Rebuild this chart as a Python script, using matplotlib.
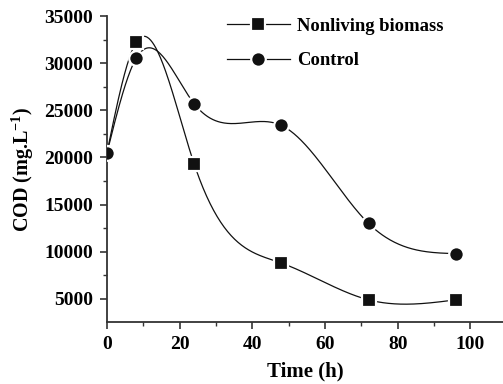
import matplotlib
matplotlib.use("Agg")
import matplotlib.pyplot as plt
from matplotlib.lines import Line2D
from matplotlib.ticker import MultipleLocator
import numpy as np

plt.rcParams['font.family'] = ['Liberation Serif', 'DejaVu Serif']
plt.rcParams['font.weight'] = 'bold'
plt.rcParams['mathtext.fontset'] = 'custom'
plt.rcParams['mathtext.rm'] = 'Liberation Serif:bold'
plt.rcParams['mathtext.default'] = 'rm'

# data
time_h = [0, 8, 24, 48, 72, 96]
nonliving = [20500, 32200, 19300, 8800, 4900, 4900]
control = [20500, 30500, 25700, 23400, 13000, 9800]


def natural_spline(x, y, n=400):
    x = np.asarray(x, float)
    y = np.asarray(y, float)
    k = len(x)
    h = np.diff(x)
    A = np.zeros((k, k))
    b = np.zeros(k)
    A[0, 0] = 1
    A[-1, -1] = 1
    for i in range(1, k - 1):
        A[i, i - 1] = h[i - 1]
        A[i, i] = 2 * (h[i - 1] + h[i])
        A[i, i + 1] = h[i]
        b[i] = 6 * ((y[i + 1] - y[i]) / h[i] - (y[i] - y[i - 1]) / h[i - 1])
    M = np.linalg.solve(A, b)
    xs = np.linspace(x[0], x[-1], n)
    idx = np.clip(np.searchsorted(x, xs) - 1, 0, k - 2)
    x0, x1 = x[idx], x[idx + 1]
    hh = x1 - x0
    ys = (M[idx] * (x1 - xs) ** 3 / (6 * hh) + M[idx + 1] * (xs - x0) ** 3 / (6 * hh)
          + (y[idx] / hh - M[idx] * hh / 6) * (x1 - xs)
          + (y[idx + 1] / hh - M[idx + 1] * hh / 6) * (xs - x0))
    return xs, ys


fig = plt.figure(figsize=(5.03, 3.84), dpi=100)
ax = fig.add_axes([0.2127, 0.1615, 0.7873, 0.7967])

sq = dict(marker='s', markersize=9.5, markerfacecolor='#111111',
          markeredgecolor='white', markeredgewidth=1.6)
ci = dict(marker='o', markersize=10.5, markerfacecolor='#111111',
          markeredgecolor='white', markeredgewidth=1.6)

xs, ys = natural_spline(time_h, nonliving)
ax.plot(xs, ys, color='#111111', lw=0.9, zorder=2)
ax.plot(time_h, nonliving, ls='none', zorder=3, **sq)

xs, ys = natural_spline(time_h, control)
ax.plot(xs, ys, color='#111111', lw=0.9, zorder=2)
ax.plot(time_h, control, ls='none', zorder=3, **ci)

ax.set_xlim(0, 109)
ax.set_ylim(2550, 35000)
ax.xaxis.set_major_locator(MultipleLocator(20))
ax.xaxis.set_minor_locator(MultipleLocator(10))
ax.set_yticks([5000, 10000, 15000, 20000, 25000, 30000, 35000])
ax.yaxis.set_minor_locator(MultipleLocator(2500))

for s in ['top', 'right']:
    ax.spines[s].set_visible(False)
for s in ['left', 'bottom']:
    ax.spines[s].set_linewidth(1.3)
    ax.spines[s].set_color('#333333')
ax.tick_params(which='major', direction='out', length=5, width=1.2, color='#333333',
               labelsize=14, pad=5)
ax.tick_params(which='minor', direction='out', length=3, width=1.0, color='#333333')
for lab in ax.get_xticklabels() + ax.get_yticklabels():
    lab.set_fontweight('bold')

ax.set_xlabel('Time (h)', fontsize=15, fontweight='bold', labelpad=6)
ax.set_ylabel('COD (mg.L$^{-1}$)', fontsize=14.5, fontweight='bold', labelpad=6)

handles = [Line2D([], [], color='#111111', lw=0.9, **sq),
           Line2D([], [], color='#111111', lw=0.9, **ci)]
ax.legend(handles, ['Nonliving biomass', 'Control'], loc='upper left',
          bbox_to_anchor=(0.26, 1.05), frameon=False, numpoints=1,
          handlelength=3.4, handletextpad=0.4, labelspacing=0.95,
          prop={'family': 'Liberation Serif', 'weight': 'bold', 'size': 13.4})

fig.savefig('out.png', dpi=100)
